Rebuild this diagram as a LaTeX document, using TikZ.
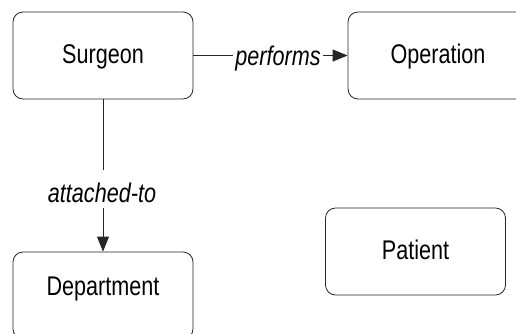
\documentclass[tikz,border=0pt]{standalone}
\usepackage{fontspec}
\newfontfamily\narrowsans[FakeStretch=0.8]{Liberation Sans}
\usetikzlibrary{arrows.meta}
\tikzset{
  entity/.style={draw=black!85, line width=0.8pt, rounded corners=10pt,
    minimum width=180pt, minimum height=87pt, inner sep=0pt,
    text height=18pt, text depth=2pt,
    font=\narrowsans\fontsize{27}{30}\selectfont},
  rel/.style={draw=black!85, line width=0.8pt, -{Triangle[length=15pt,width=12pt]}},
  rellabel/.style={fill=white, inner xsep=2pt, inner ysep=0pt,
    text height=32pt, text depth=6pt, anchor=base,
    font=\narrowsans\itshape\fontsize{27}{30}\selectfont}
}
\begin{document}
\begin{tikzpicture}[x=1pt,y=-1pt]
  \clip (0,0) rectangle (516,333);
  \node[entity] (surgeon) at (103,55.5) {Surgeon};
  \node[entity] (operation) at (438,55.5) {Operation};
  \node[entity, text height=12pt, text depth=12pt] (department) at (103,295.5) {Department};
  \node[entity] (patient) at (415.5,251.5) {Patient};
  \draw[rel] (surgeon.east) -- (operation.west);
  \draw[rel] (surgeon.south) -- (department.north);
  \node[rellabel] (performs) at (278,65.5) {performs};
  \node[rellabel] (attached) at (102,202) {attached-to};
\end{tikzpicture}
\end{document}
